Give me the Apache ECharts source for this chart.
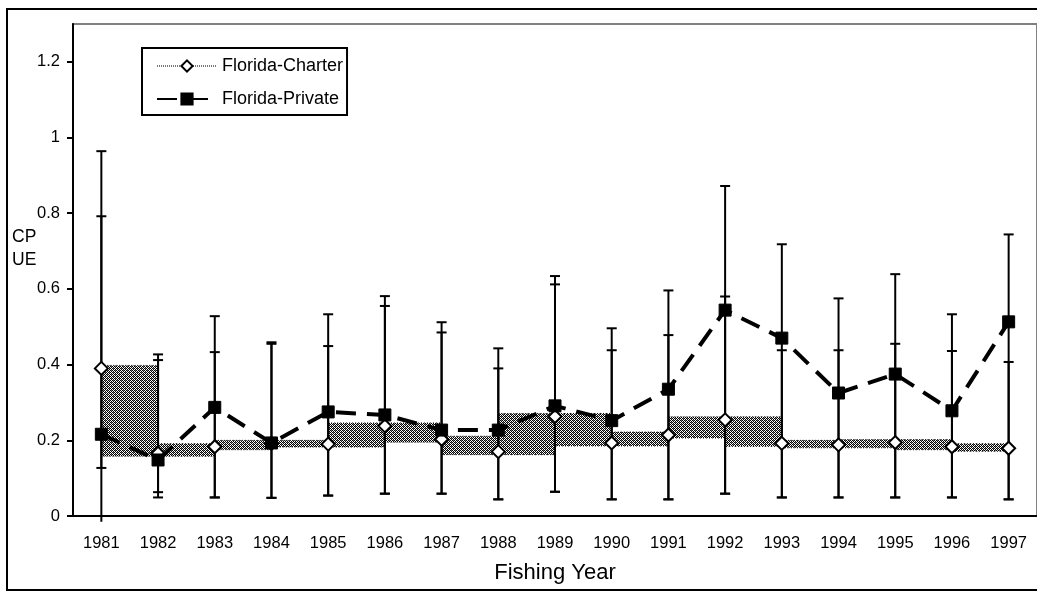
<!DOCTYPE html>
<html>
<head>
<meta charset="utf-8">
<script src="https://cdn.jsdelivr.net/npm/echarts@6/dist/echarts.min.js"></script>
<style>
    html, body { margin: 0; padding: 0; background: #fff; }
    #myChart { width: 1037px; height: 591px; }
</style>
</head>
<body>
<div id="myChart"></div>
<script>
// values
var years = ["1981", "1982", "1983", "1984", "1985", "1986", "1987", "1988", "1989",
    "1990", "1991", "1992", "1993", "1994", "1995", "1996", "1997"];
var charter = [0.390, 0.166, 0.183, 0.192, 0.190, 0.238, 0.203, 0.170, 0.263,
    0.193, 0.214, 0.254, 0.192, 0.188, 0.194, 0.183, 0.179];
var privateBoat = [0.216, 0.148, 0.287, 0.193, 0.275, 0.267, 0.227, 0.227, 0.291,
    0.252, 0.335, 0.544, 0.470, 0.325, 0.375, 0.278, 0.513];
var charterHigh = [0.964, 0.412, 0.433, 0.455, 0.449, 0.555, 0.485, 0.390, 0.612,
    0.438, 0.478, 0.580, 0.438, 0.438, 0.455, 0.436, 0.407];
var charterLow = [-0.015, 0.049, 0.049, 0.048, 0.054, 0.059, 0.059, 0.044, 0.064,
    0.044, 0.044, 0.059, 0.049, 0.049, 0.049, 0.049, 0.044];
var privateHigh = [0.792, 0.427, 0.528, 0.459, 0.533, 0.581, 0.512, 0.443, 0.634,
    0.496, 0.596, 0.872, 0.718, 0.575, 0.639, 0.533, 0.744];
var privateLow = [0.127, 0.063, 0.049, 0.048, 0.054, 0.059, 0.059, 0.044, 0.064,
    0.044, 0.044, 0.059, 0.049, 0.049, 0.049, 0.049, 0.044];
var yTicks = [0, 0.2, 0.4, 0.6, 0.8, 1, 1.2];

var FONT = '"Liberation Sans", Arial, sans-serif';

// grey checker fill, like the old printer pattern
function makePattern() {
    var c = document.createElement("canvas");
    c.width = 4;
    c.height = 4;
    var ctx = c.getContext("2d");
    ctx.fillStyle = "#fff";
    ctx.fillRect(0, 0, 4, 4);
    ctx.fillStyle = "#000";
    for (var x = 0; x < 4; x++) {
        for (var y = 0; y < 4; y++) {
            if ((x + y) % 2 === 0) ctx.fillRect(x, y, 1, 1);
        }
    }
    ctx.fillStyle = "#777";
    ctx.fillRect(1, 0, 1, 1);
    ctx.fillRect(3, 2, 1, 1);
    return c;
}
var pattern = { image: makePattern(), repeat: "repeat" };

var bandData = [];
for (var i = 0; i < charter.length - 1; i++) {
    bandData.push([i, charter[i], charter[i + 1]]);
}
var errData = [];
for (var j = 0; j < years.length; j++) {
    errData.push([j, charterLow[j], charterHigh[j]]);
    errData.push([j, privateLow[j], privateHigh[j]]);
}

var myChart = echarts.init(document.getElementById("myChart"));

var option = {
    animation: false,
    backgroundColor: "#fff",
    textStyle: { fontFamily: FONT, color: "#000" },
    grid: {
        show: true,
        left: 73,
        top: 24,
        width: 973,
        height: 492,
        borderColor: "#808080",
        borderWidth: 2,
        backgroundColor: "transparent",
    },
    legend: {
        left: 142,
        top: 48,
        orient: "vertical",
        padding: [8, 4, 6, 14],
        itemGap: 13,
        itemWidth: 60,
        itemHeight: 14,
        borderColor: "#000",
        borderWidth: 2,
        borderRadius: 0,
        backgroundColor: "#fff",
        textStyle: { fontFamily: FONT, fontSize: 18, color: "#000", lineHeight: 20 },
        data: [
            {
                name: "Florida-Charter",
                lineStyle: { color: "#777", width: 2, type: [1, 1], opacity: 1 },
            },
            { name: "Florida-Private" },
        ],
    },
    xAxis: {
        type: "category",
        data: years,
        offset: 2,
        axisLine: { lineStyle: { color: "#000", width: 2 } },
        axisTick: { length: 6, lineStyle: { color: "#000", width: 1.5 } },
        axisLabel: { margin: 17, fontSize: 16.5, color: "#000", fontFamily: FONT },
        name: "Fishing Year",
        nameLocation: "middle",
        nameGap: 44,
        nameTextStyle: { fontSize: 22, color: "#000", fontFamily: FONT },
    },
    yAxis: {
        type: "value",
        min: 0,
        max: 1.3,
        interval: 0.2,
        splitLine: { show: false },
        axisLine: { show: true, lineStyle: { color: "#000", width: 2 } },
        axisTick: {
            show: true,
            length: 6,
            customValues: yTicks,
            lineStyle: { color: "#000", width: 2 },
        },
        axisLabel: {
            customValues: yTicks,
            margin: 13,
            fontSize: 16.5,
            color: "#000",
            fontFamily: FONT,
        },
    },
    graphic: [
        {
            type: "rect",
            shape: { x: 7, y: 9, width: 1100, height: 581 },
            style: { fill: "transparent", stroke: "#000", lineWidth: 2 },
            silent: true,
        },
        {
            type: "text",
            left: 12,
            top: 226,
            style: {
                text: "CP\nUE",
                font: "17.5px " + FONT,
                lineHeight: 23,
                fill: "#000",
            },
        },
    ],
    series: [
        {
            // the charter line shows as patterned boxes between points
            type: "custom",
            name: "band",
            z: 1,
            data: bandData,
            renderItem: function (params, api) {
                var p1 = api.coord([api.value(0), api.value(1)]);
                var p2 = api.coord([api.value(0) + 1, api.value(2)]);
                var top = Math.min(p1[1], p2[1]) - 3;
                var h = Math.abs(p1[1] - p2[1]) + 6;
                return {
                    type: "rect",
                    shape: { x: p1[0], y: top, width: p2[0] - p1[0], height: h },
                    style: { fill: pattern, stroke: "#000", lineWidth: 1, lineDash: [1, 2] },
                };
            },
        },
        {
            type: "custom",
            name: "errors",
            z: 2,
            data: errData,
            renderItem: function (params, api) {
                var x = api.value(0);
                var lo = api.coord([x, api.value(1)]);
                var hi = api.coord([x, api.value(2)]);
                var st = { stroke: "#000", lineWidth: 2 };
                var kids = [
                    { type: "line", shape: { x1: hi[0], y1: hi[1], x2: lo[0], y2: lo[1] }, style: st },
                    { type: "line", shape: { x1: hi[0] - 5, y1: hi[1], x2: hi[0] + 5, y2: hi[1] }, style: st },
                ];
                if (api.value(1) >= 0) {
                    kids.push({ type: "line", shape: { x1: lo[0] - 5, y1: lo[1], x2: lo[0] + 5, y2: lo[1] }, style: st });
                }
                return { type: "group", children: kids };
            },
        },
        {
            type: "line",
            name: "Florida-Charter",
            z: 3,
            data: charter,
            symbol: "diamond",
            symbolSize: 13,
            itemStyle: { color: "#fff", borderColor: "#000", borderWidth: 2 },
            lineStyle: { opacity: 0 },
        },
        {
            type: "line",
            name: "Florida-Private",
            z: 4,
            data: privateBoat,
            symbol: "rect",
            symbolSize: 12,
            itemStyle: { color: "#000", borderColor: "#000", borderWidth: 1 },
            lineStyle: { color: "#000", width: 4, type: [20, 11] },
        },
    ],
};
myChart.setOption(option);
</script>
</body>
</html>
